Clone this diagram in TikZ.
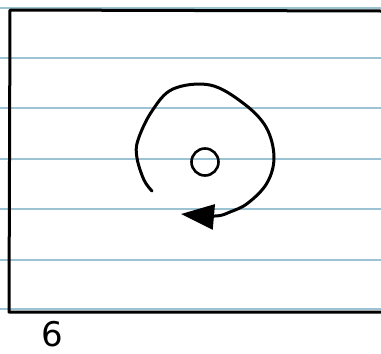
\documentclass[tikz,border=0pt]{standalone}
\usepackage{fontspec}
\usepackage{xcolor}
\usepackage{tikz}
\usetikzlibrary{arrows.meta}
\newfontfamily\numfont{DejaVu Sans}
\definecolor{ruledblue}{HTML}{9CC3D3}

\begin{document}
\begin{tikzpicture}[
    x=1pt, y=-1pt,
    ruling/.style={ruledblue, line width=1.4pt},
    ink/.style={black, line width=3pt, line cap=round, line join=round},
    hub/.style={circle, draw, line width=2.6pt, minimum size=27pt, inner sep=0pt},
    pagenum/.style={font=\numfont\fontsize{34}{36}\selectfont, inner sep=0pt}
]
\useasboundingbox (0,0) rectangle (381,354);
% ruled lines
\foreach \y in {8,58,108,159,209,260,309}
    \draw[ruling] (0,\y) -- (381,\y);
% page frame
\draw[ink] (381,11) -- (10,10) -- (9,312) -- (381,312);
% centre and label
\node[hub] (core) at (205,162) {};
\node[pagenum] (num) at (52,334) {6};
% swirl around the centre
\coordinate (swirlstart) at (152,191);
\coordinate (swirlend) at (181,214);
\draw[ink, -{Triangle[length=33pt,width=25pt]}] plot[smooth, tension=0.6] coordinates {
    (152,191) (144,180) (137,158) (138,140) (152,111) (173,89)
    (210,85) (243,103) (266,127) (274,157) (267,183) (248,203)
    (230,212) (215,216) (181,214)};
\end{tikzpicture}
\end{document}
